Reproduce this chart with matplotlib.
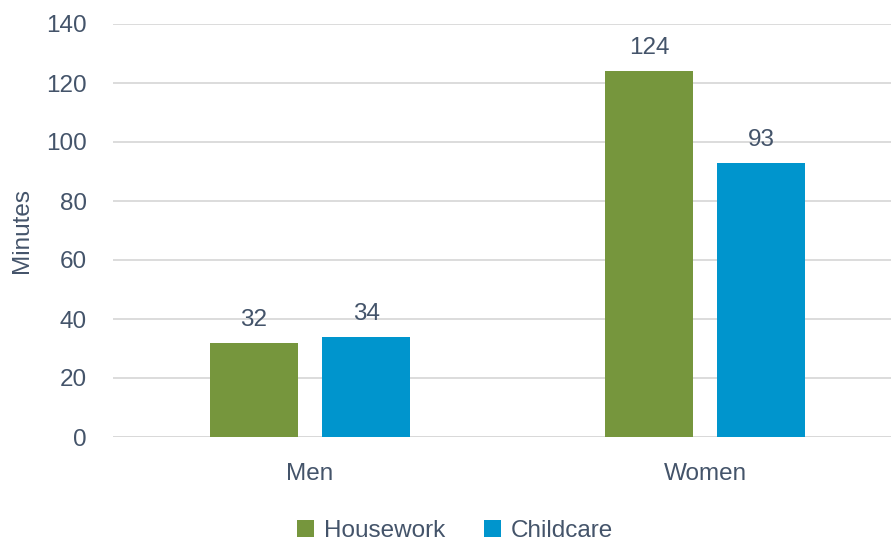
import matplotlib.pyplot as plt
import numpy as np

categories = ["Men", "Women"]
series_names = ["Housework", "Childcare"]
housework = [32, 124]
childcare = [34, 93]
y_ticks = [0, 20, 40, 60, 80, 100, 120, 140]

text_color = "#44546A"
colors = ["#76963D", "#0095CD"]

plt.rcParams["font.family"] = ["Liberation Sans Narrow", "Liberation Sans", "DejaVu Sans"]

fig = plt.figure(figsize=(8.91, 5.42), dpi=100)
ax = fig.add_axes([113 / 891, 1 - 437 / 542, (891 - 113) / 891, (437 - 24) / 542])

x = np.arange(len(categories))
width = 0.223
offset = 0.142

for vals, off, col, name in zip([housework, childcare], [-offset, offset], colors, series_names):
    bars = ax.bar(x + off, vals, width, color=col, label=name, zorder=3)
    for b, v in zip(bars, vals):
        ax.text(b.get_x() + b.get_width() / 2, v + 4, str(v), ha="center", va="bottom",
                fontsize=17.5, color=text_color)

ax.set_xlim(-0.499, 1.471)
ax.set_ylim(0, 140)
ax.set_yticks(y_ticks)
ax.yaxis.grid(True, color="#D9D9D9", linewidth=1.3, zorder=0)
ax.set_xticks(x)
ax.set_xticklabels(categories)
ax.tick_params(axis="both", length=0, labelsize=17.5, labelcolor=text_color)
ax.tick_params(axis="x", pad=19)
ax.tick_params(axis="y", pad=19)
for s in ax.spines.values():
    s.set_visible(False)
ax.axhline(0, color="#D9D9D9", linewidth=1.3, zorder=2)

ax.set_ylabel("Minutes", fontsize=17.5, color=text_color)
ax.yaxis.set_label_coords(-0.103, 0.5)

fig.legend(loc="center", bbox_to_anchor=(455 / 891, 1 - 531 / 542), ncol=2, frameon=False,
           fontsize=17.5, labelcolor=text_color, handlelength=0.7, handleheight=0.7,
           handletextpad=0.4, columnspacing=1.6)

fig.savefig("out.png", dpi=100)
